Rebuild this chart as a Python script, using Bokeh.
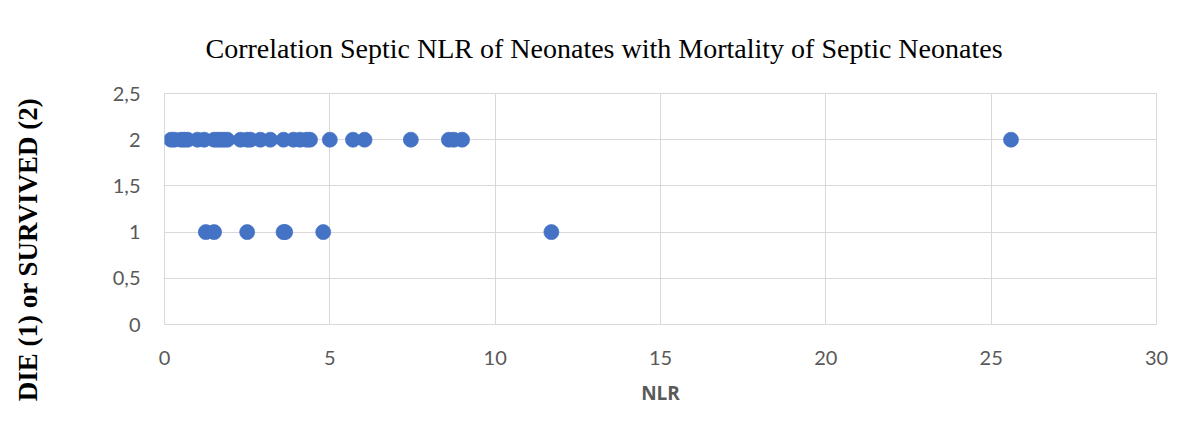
import math
from bokeh.plotting import figure
from bokeh.layouts import row
from bokeh.models import FixedTicker, Title, ColumnDataSource
from bokeh.core.properties import value
from bokeh.embed import file_html
from bokeh.resources import INLINE

# Data
survived_nlr = [0.2, 0.3, 0.5, 0.6, 0.7, 1.0, 1.2, 1.5, 1.6, 1.7, 1.8, 1.9,
                2.3, 2.5, 2.6, 2.9, 3.2, 3.6, 3.9, 4.1, 4.3, 4.4,
                5.0, 5.7, 6.05, 7.45, 8.6, 8.75, 9.0, 25.6]
died_nlr = [1.25, 1.5, 2.5, 3.6, 3.65, 4.8, 11.7]
x_ticks = [0, 5, 10, 15, 20, 25, 30]
y_ticks = [0, 0.5, 1, 1.5, 2, 2.5]
y_tick_labels = ["0", "0,5", "1", "1,5", "2", "2,5"]

title_text = "Correlation Septic NLR of Neonates with Mortality of Septic Neonates"
ylabel_text = "DIE (1) or SURVIVED (2)"
xlabel_text = "NLR"

nlr = survived_nlr + died_nlr
outcome = [2] * len(survived_nlr) + [1] * len(died_nlr)
src = ColumnDataSource(dict(x=nlr, y=outcome))

W, H = 1184, 426
LW = 48  # narrow strip holding the vertical axis title

# Left strip: vertical axis title, in pixel coordinates of the strip
side = figure(width=LW, height=H, output_backend="svg", toolbar_location=None,
              x_range=(0, LW), y_range=(0, H), min_border=0, frame_align=False)
side.axis.visible = False
side.grid.visible = False
side.outline_line_color = None
side.text(x=[27], y=[H - 249], text=[ylabel_text], angle=math.pi / 2,
          text_align="center", text_baseline="middle",
          text_font=value("Liberation Serif"), text_font_style="bold",
          text_font_size="27px", text_color="#000000")

p = figure(width=W - LW, height=H, output_backend="svg", toolbar_location=None,
           x_range=(0, 30), y_range=(0, 2.5), frame_align=False,
           min_border_left=164 - LW, min_border_right=28,
           min_border_top=93, min_border_bottom=102)

p.scatter("x", "y", source=src, size=15, fill_color="#4472C4",
          line_color="#4472C4", line_width=0.75)

grid_color = "#d9d9d9"
p.xgrid.grid_line_color = grid_color
p.ygrid.grid_line_color = grid_color
p.outline_line_color = grid_color

for ax in (p.xaxis[0], p.yaxis[0]):
    ax.axis_line_color = None
    ax.major_tick_line_color = None
    ax.minor_tick_line_color = None
    ax.major_label_text_font = "Lato"
    ax.major_label_text_font_size = "20px"
    ax.major_label_text_color = "#595959"

p.xaxis.ticker = FixedTicker(ticks=x_ticks)
p.yaxis.ticker = FixedTicker(ticks=y_ticks)
p.xgrid.ticker = FixedTicker(ticks=x_ticks)
p.ygrid.ticker = FixedTicker(ticks=y_ticks)
p.yaxis.major_label_overrides = {t: l for t, l in zip(y_ticks, y_tick_labels)}
p.xaxis.major_label_standoff = 20
p.yaxis.major_label_standoff = 18

p.xaxis.axis_label = xlabel_text
p.xaxis.axis_label_text_font = "Open Sans"
p.xaxis.axis_label_text_font_style = "bold"
p.xaxis.axis_label_text_font_size = "19px"
p.xaxis.axis_label_text_color = "#595959"
p.xaxis.axis_label_standoff = 12

p.title = Title(text=title_text, align="left", offset=41, standoff=56,
                vertical_align="top",
                text_font="Liberation Serif", text_font_style="normal",
                text_font_size="28px", text_color="#000000")

layout = row(side, p, spacing=0)
open("out.html", "w").write(file_html(layout, INLINE))
